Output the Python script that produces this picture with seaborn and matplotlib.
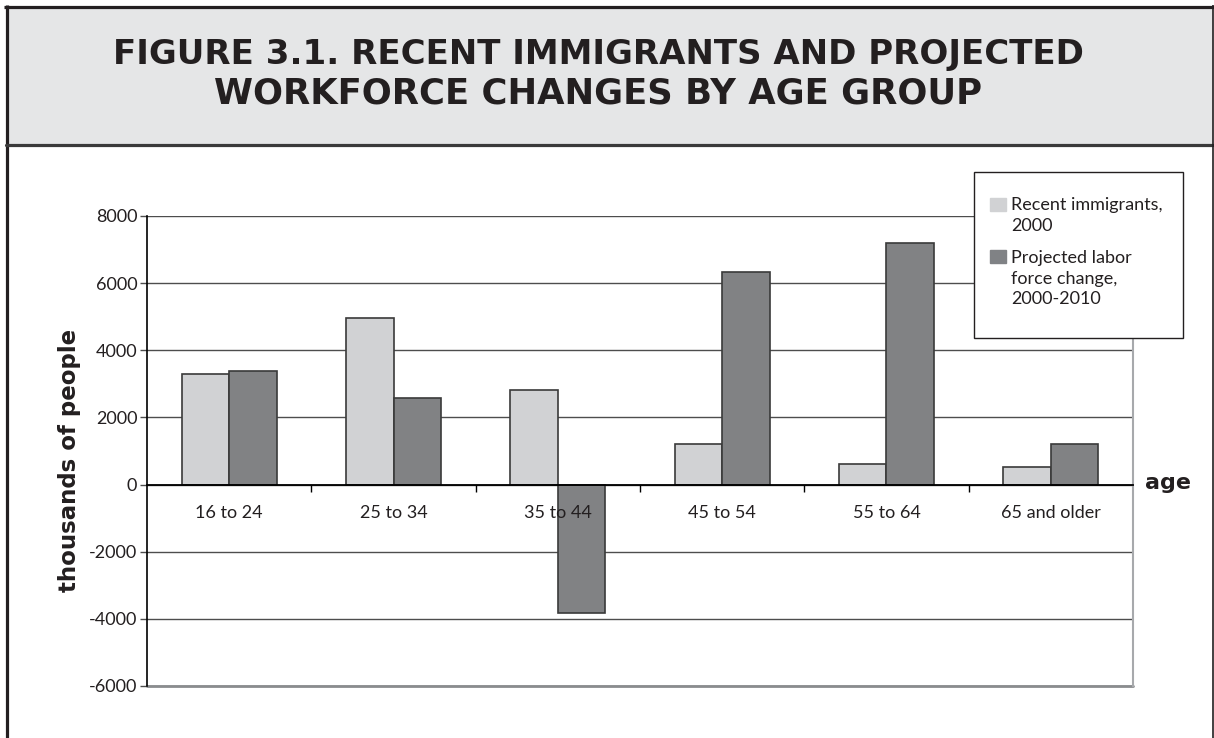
import matplotlib
matplotlib.use("Agg")
import matplotlib.pyplot as plt
from matplotlib.patches import Rectangle, Patch
from matplotlib.lines import Line2D
from matplotlib.legend_handler import HandlerPatch
import seaborn as sns
import pandas as pd

# ---- data (thousands of people) ----
age_groups = ["16 to 24", "25 to 34", "35 to 44", "45 to 54", "55 to 64", "65 and older"]
recent_immigrants = [3300, 4970, 2830, 1220, 620, 520]
labor_force_change = [3390, 2590, -3840, 6340, 7200, 1220]
series_names = ["Recent immigrants,\n2000", "Projected labor\nforce change,\n2000-2010"]
y_ticks = [-6000, -4000, -2000, 0, 2000, 4000, 6000, 8000]

title_lines = ["FIGURE 3.1. RECENT IMMIGRANTS AND PROJECTED",
               "WORKFORCE CHANGES BY AGE GROUP"]

light_gray = "#d1d2d4"
dark_gray = "#808285"
ink = "#231f20"

df = pd.DataFrame({
    "age": age_groups * 2,
    "value": recent_immigrants + labor_force_change,
    "series": [series_names[0]] * len(age_groups) + [series_names[1]] * len(age_groups),
})

sns.set_style("white")
plt.rcParams["font.family"] = ["Lato", "DejaVu Sans"]
plt.rcParams["axes.unicode_minus"] = False

W, H = 1214, 738
fig = plt.figure(figsize=(W / 100, H / 100), dpi=100)
fig.patch.set_facecolor("white")


def fx(px):
    return px / W


def fy(py):
    return 1 - py / H


# ---- page frame and title band ----
fig.add_artist(Rectangle((fx(6), fy(144)), fx(1207), fy(6) - fy(144),
                         transform=fig.transFigure, facecolor="#e5e6e7",
                         edgecolor="none", zorder=0))
frame_kw = dict(transform=fig.transFigure, color=ink, zorder=1,
                solid_capstyle="butt")
fig.add_artist(Line2D([fx(4), fx(1214)], [fy(6.5), fy(6.5)], lw=2.3, **frame_kw))
fig.add_artist(Line2D([fx(6.5), fx(6.5)], [fy(5), 0], lw=2.3, **frame_kw))
fig.add_artist(Line2D([fx(6), fx(1213)], [fy(144.5), fy(144.5)], lw=2.3,
                      transform=fig.transFigure, color="#3a3a3a", zorder=1))
fig.add_artist(Line2D([fx(1212.6), fx(1212.6)], [fy(5), 0], lw=1.2, **frame_kw))

for line, base, size in zip(title_lines, [64, 103], [24.5, 25.5]):
    fig.text(fx(598), fy(base), line, ha="center", va="baseline",
             fontsize=size, fontweight="bold", family="DejaVu Sans", color=ink)

# ---- bar chart ----
ax = fig.add_axes([fx(147), fy(686), fx(1133) - fx(147), fy(216) - fy(686)])
sns.barplot(data=df, x="age", y="value", hue="series", order=age_groups,
            hue_order=series_names, palette=[light_gray, dark_gray],
            width=0.58, edgecolor="#3a3a3a", linewidth=1.2, legend=False,
            ax=ax, zorder=2)

ax.set_ylim(-6000, 8000)
ax.set_xlim(-0.5, len(age_groups) - 0.5)
ax.set_yticks(y_ticks)
ax.set_yticklabels([str(v) for v in y_ticks])
ax.set_xlabel("")
ax.set_ylabel("")
ax.set_axisbelow(True)
ax.yaxis.grid(True, color="#4d4d4d", linewidth=1.0)
ax.xaxis.grid(False)
# category labels stay on top of the bars
ax.xaxis.set_zorder(3)

# category axis sits on the zero line
ax.spines["bottom"].set_position(("data", 0))
ax.spines["bottom"].set_color("black")
ax.spines["bottom"].set_linewidth(1.3)
ax.spines["left"].set_color("black")
ax.spines["left"].set_linewidth(1.2)
ax.spines["top"].set_visible(False)
ax.spines["right"].set_color("#a7a9ac")
ax.spines["right"].set_linewidth(1.5)
ax.axhline(-6000, color="#8a8c8e", linewidth=2.0, clip_on=False, zorder=1.5)

ax.set_xticks(range(len(age_groups)))
ax.set_xticks([i + 0.5 for i in range(len(age_groups) - 1)], minor=True)
ax.tick_params(axis="x", which="major", length=0, pad=15, labelsize=13,
               labelcolor="#231f20")
ax.tick_params(axis="x", which="minor", direction="out", length=5, width=1,
               color="black", bottom=True)
ax.tick_params(axis="y", which="major", direction="out", length=5, width=1,
               color="#4d4d4d", left=True, pad=2, labelsize=13,
               labelcolor="#231f20")

fig.text(fx(70), fy(460), "thousands of people", rotation=90, ha="center",
         va="center", fontsize=16.5, fontweight="bold", family="DejaVu Sans",
         color=ink)
fig.text(fx(1168), fy(483), "age", ha="center", va="center", fontsize=16,
         fontweight="bold", family="DejaVu Sans", color=ink)

# ---- legend ----
fig.add_artist(Rectangle((fx(974), fy(338)), fx(209), fy(172) - fy(338),
                         transform=fig.transFigure, facecolor="white",
                         edgecolor=ink, linewidth=1.0, zorder=3))

LEGEND_SIZE = 13
LINE_SPACING = 1.36
LINE_STEP = 16.0  # points between label baselines


def top_aligned_patch(legend, orig_handle, xdescent, ydescent, width, height,
                      fontsize):
    n_lines = orig_handle.get_label().count("\n") + 1
    shift = (n_lines - 1) / 2 * LINE_STEP
    return Rectangle((-xdescent, -ydescent + shift), width, height)


handles = [Patch(facecolor=c, edgecolor=c, label=l)
           for c, l in zip([light_gray, dark_gray], series_names)]
leg = fig.legend(handles=handles, labels=series_names, loc="upper left",
                 bbox_to_anchor=(fx(990), fy(197)), bbox_transform=fig.transFigure,
                 frameon=False, borderpad=0, borderaxespad=0, fontsize=LEGEND_SIZE,
                 handlelength=0.88, handleheight=0.68, handletextpad=0.3,
                 labelspacing=0.9, labelcolor=ink,
                 handler_map={Patch: HandlerPatch(patch_func=top_aligned_patch)})
for t in leg.get_texts():
    t.set_linespacing(LINE_SPACING)

fig.savefig("out.png", dpi=100)
